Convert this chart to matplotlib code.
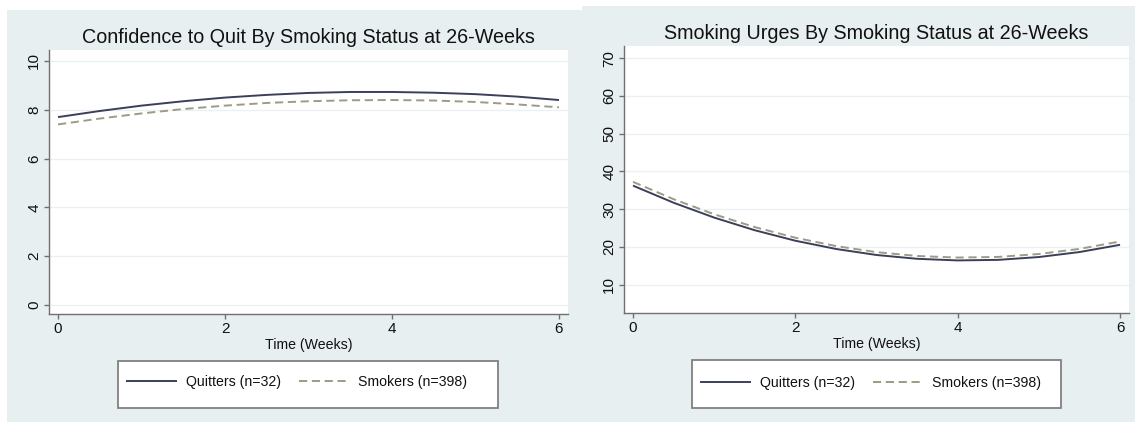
import matplotlib
matplotlib.use('Agg')
import matplotlib.pyplot as plt
from matplotlib.patches import Rectangle

plt.rcParams['font.family'] = ['Liberation Sans', 'DejaVu Sans']

weeks = [0, 0.5, 1, 1.5, 2, 2.5, 3, 3.5, 4, 4.5, 5, 5.5, 6]

confidence_quitters = [7.70, 7.95, 8.17, 8.35, 8.50, 8.61, 8.69,
                       8.73, 8.73, 8.70, 8.64, 8.54, 8.40]
confidence_smokers = [7.40, 7.64, 7.85, 8.03, 8.17, 8.28, 8.35,
                      8.39, 8.40, 8.38, 8.32, 8.22, 8.10]

urges_quitters = [36.20, 31.67, 27.73, 24.38, 21.60, 19.42, 17.82,
                  16.81, 16.38, 16.53, 17.28, 18.60, 20.52]
urges_smokers = [37.20, 32.61, 28.61, 25.21, 22.40, 20.19, 18.58,
                 17.56, 17.14, 17.31, 18.08, 19.44, 21.40]

labels = ['Quitters (n=32)', 'Smokers (n=398)']
x_ticks = [0, 2, 4, 6]
confidence_ticks = [0, 2, 4, 6, 8, 10]
urges_ticks = [10, 20, 30, 40, 50, 60, 70]

W, H = 1135, 422
BG = '#e8eff1'
AXIS = '#707070'
TEXT = '#111111'
QUIT_COLOR = '#3b3f5a'
SMOKE_COLOR = '#9c9c84'


def fig_box(x0, y0, x1, y1):
    # pixel box (top-left origin) -> figure fraction [left, bottom, width, height]
    return [x0 / W, 1 - y1 / H, (x1 - x0) / W, (y1 - y0) / H]


def panel(fig, box, title, quit_vals, smoke_vals, yticks, ylim, xlim,
          legend_anchor, legend_box):
    ax = fig.add_axes(fig_box(*box))
    ax.set_facecolor('white')
    l1, = ax.plot(weeks, quit_vals, color=QUIT_COLOR, lw=1.4,
                  solid_capstyle='butt')
    l2, = ax.plot(weeks, smoke_vals, color=SMOKE_COLOR, lw=1.4,
                  linestyle=(0, (4.2, 2.4)))
    ax.set_xlim(*xlim)
    ax.set_ylim(*ylim)
    ax.set_xticks(x_ticks)
    ax.set_yticks(yticks)
    ax.set_yticklabels([str(t) for t in yticks], rotation=90, va='center')
    ax.grid(axis='y', color='#edf0f2', lw=1.0)
    ax.set_axisbelow(True)
    for side in ('top', 'right'):
        ax.spines[side].set_visible(False)
    for side in ('left', 'bottom'):
        ax.spines[side].set_color(AXIS)
        ax.spines[side].set_linewidth(1.0)
    ax.tick_params(axis='both', direction='out', length=3.6, width=1,
                   color=AXIS, labelcolor=TEXT, labelsize=11)
    ax.tick_params(axis='x', pad=2.5)
    ax.tick_params(axis='y', pad=2)
    ax.set_title(title, fontsize=14.2, color=TEXT, pad=5)
    ax.set_xlabel('Time (Weeks)', fontsize=10.2, color=TEXT, labelpad=1)

    # legend frame, then the entries laid on top of it
    lx0, ly0, lx1, ly1 = legend_box
    fig.add_artist(Rectangle(((lx0) / W, 1 - ly1 / H), (lx1 - lx0) / W,
                             (ly1 - ly0) / H, transform=fig.transFigure,
                             facecolor='white', edgecolor='#808080', lw=1.3,
                             zorder=-5))
    ax.legend([l1, l2], labels, ncol=2, frameon=False, loc='center left',
              bbox_to_anchor=(legend_anchor[0] / W, 1 - legend_anchor[1] / H),
              bbox_transform=fig.transFigure, borderpad=0, borderaxespad=0,
              fontsize=10.2, handlelength=3.6, handletextpad=0.6,
              columnspacing=1.3, labelcolor=TEXT)
    return ax


if __name__ == '__main__':
    fig = plt.figure(figsize=(W / 100, H / 100), dpi=100)
    fig.patch.set_facecolor('white')

    # panel backgrounds
    fig.add_artist(Rectangle((7 / W, 0), (582 - 7) / W, (H - 10) / H,
                             transform=fig.transFigure, facecolor=BG,
                             edgecolor='none', zorder=-10))
    fig.add_artist(Rectangle((582 / W, 0), (W - 582) / W, (H - 6) / H,
                             transform=fig.transFigure, facecolor=BG,
                             edgecolor='none', zorder=-10))

    panel(fig, (49, 50, 568, 314),
          'Confidence to Quit By Smoking Status at 26-Weeks',
          confidence_quitters, confidence_smokers,
          confidence_ticks, (-0.37, 10.45), (-0.108, 6.108),
          (126, 382), (118, 361, 498, 408))
    panel(fig, (624, 46, 1129, 313),
          'Smoking Urges By Smoking Status at 26-Weeks',
          urges_quitters, urges_smokers,
          urges_ticks, (2.45, 73.2), (-0.111, 6.11),
          (700, 383), (692, 360, 1061, 408))

    fig.savefig('out.png', dpi=100, facecolor=fig.get_facecolor())
